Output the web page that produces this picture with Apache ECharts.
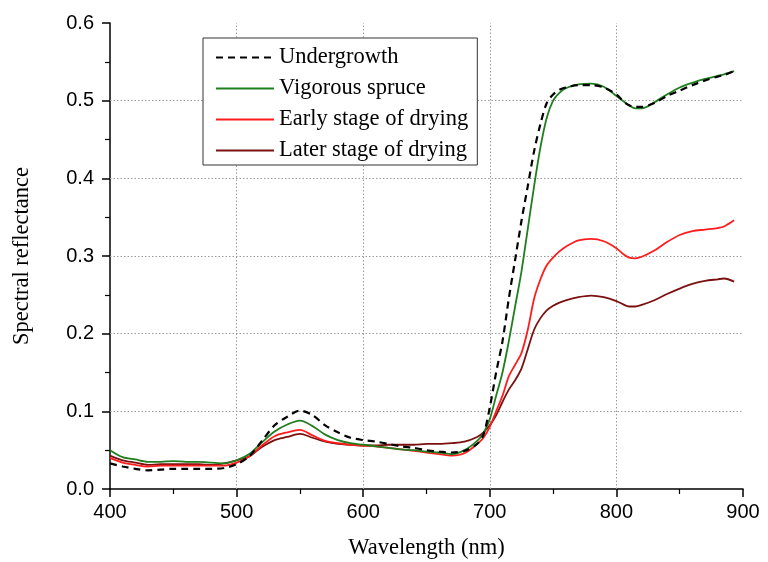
<!DOCTYPE html>
<html>
<head>
<meta charset="utf-8">
<script src="https://cdn.jsdelivr.net/npm/echarts@6/dist/echarts.min.js"></script>
<style>
  html, body { margin: 0; padding: 0; background: #fff; }
  #chart { width: 768px; height: 562px; }
</style>
</head>
<body>
<div id="chart"></div>
<script>
// wavelength (nm)
var wavelength = [400, 410, 420, 430, 440, 450, 460, 470, 480, 490, 500, 510, 520, 530, 540, 550, 560, 570, 580, 590,
  600, 610, 620, 630, 640, 650, 660, 670, 680, 690, 695, 700, 705, 710, 715, 720, 725, 730, 735, 740,
  745, 750, 755, 760, 770, 780, 790, 800, 805, 810, 815, 820, 830, 840, 850, 860, 870, 880, 885, 893];

var undergrowth = [0.033, 0.029, 0.026, 0.024, 0.025, 0.026, 0.026, 0.026, 0.026, 0.027, 0.032, 0.042, 0.062, 0.082, 0.093, 0.101, 0.095, 0.082, 0.073, 0.066,
  0.063, 0.061, 0.058, 0.055, 0.053, 0.050, 0.048, 0.047, 0.049, 0.058, 0.070, 0.105, 0.150, 0.190, 0.245, 0.295, 0.345, 0.390, 0.435, 0.470,
  0.497, 0.508, 0.514, 0.517, 0.520, 0.520, 0.517, 0.508, 0.500, 0.494, 0.492, 0.492, 0.497, 0.506, 0.513, 0.520, 0.526, 0.531, 0.533, 0.538];

var vigorous = [0.050, 0.041, 0.038, 0.035, 0.035, 0.036, 0.035, 0.035, 0.034, 0.033, 0.037, 0.045, 0.060, 0.074, 0.083, 0.088, 0.081, 0.070, 0.063, 0.059,
  0.057, 0.055, 0.053, 0.051, 0.050, 0.048, 0.047, 0.045, 0.050, 0.062, 0.072, 0.090, 0.120, 0.150, 0.190, 0.235, 0.280, 0.335, 0.390, 0.440,
  0.478, 0.500, 0.510, 0.516, 0.521, 0.522, 0.518, 0.506, 0.500, 0.494, 0.490, 0.490, 0.498, 0.508, 0.517, 0.523, 0.528, 0.532, 0.534, 0.538];

var earlyDrying = [0.040, 0.034, 0.031, 0.029, 0.030, 0.030, 0.030, 0.030, 0.030, 0.030, 0.034, 0.042, 0.056, 0.068, 0.073, 0.076, 0.069, 0.062, 0.059, 0.057,
  0.056, 0.055, 0.053, 0.051, 0.049, 0.047, 0.045, 0.043, 0.046, 0.058, 0.066, 0.080, 0.100, 0.120, 0.145, 0.160, 0.175, 0.205, 0.245, 0.270,
  0.288, 0.298, 0.306, 0.312, 0.320, 0.322, 0.319, 0.310, 0.303, 0.298, 0.297, 0.299, 0.307, 0.318, 0.327, 0.332, 0.334, 0.336, 0.338, 0.346];

var laterDrying = [0.043, 0.037, 0.034, 0.031, 0.032, 0.032, 0.032, 0.032, 0.031, 0.033, 0.037, 0.042, 0.054, 0.063, 0.067, 0.071, 0.066, 0.061, 0.058, 0.057,
  0.056, 0.056, 0.057, 0.057, 0.057, 0.058, 0.058, 0.059, 0.061, 0.067, 0.073, 0.082, 0.095, 0.112, 0.128, 0.140, 0.155, 0.180, 0.205, 0.220,
  0.230, 0.236, 0.240, 0.243, 0.247, 0.249, 0.247, 0.242, 0.238, 0.235, 0.235, 0.237, 0.243, 0.251, 0.258, 0.264, 0.268, 0.270, 0.271, 0.267];

var seriesNames = ['Undergrowth', 'Vigorous spruce', 'Early stage of drying', 'Later stage of drying'];
var seriesColors = ['#000000', '#1f7f1f', '#ff1c1c', '#7a1010'];
var xGrid = [500, 600, 700, 800];
var yGrid = [0.1, 0.2, 0.3, 0.4, 0.5];

function pairs(vals) {
  return wavelength.map(function (w, i) { return [w, vals[i]]; });
}

var chart = echarts.init(document.getElementById('chart'), null, { renderer: 'canvas' });

var gridLines = xGrid.map(function (v) { return { xAxis: v }; })
  .concat(yGrid.map(function (v) { return { yAxis: v }; }));

function lineSeries(idx, vals, dashed) {
  return {
    name: seriesNames[idx],
    type: 'line',
    data: pairs(vals),
    showSymbol: false,
    symbol: 'none',
    smooth: 0.3,
    z: 10 - idx,
    lineStyle: { color: seriesColors[idx], width: dashed ? 2.2 : 1.8, type: dashed ? [7, 5] : 'solid' },
    itemStyle: { color: seriesColors[idx] }
  };
}

var series = [
  lineSeries(0, undergrowth, true),
  lineSeries(1, vigorous, false),
  lineSeries(2, earlyDrying, false),
  lineSeries(3, laterDrying, false)
];
// dotted grid at the inner major ticks only
series[3].markLine = {
  silent: true,
  symbol: 'none',
  label: { show: false },
  lineStyle: { color: '#9a9a9a', type: [1.5, 2], width: 1 },
  emphasis: { disabled: true },
  data: gridLines,
  z: 1
};

chart.setOption({
  animation: false,
  backgroundColor: '#fff',
  grid: { left: 110, right: 25, top: 23, bottom: 73, outerBoundsMode: 'none' },
  legend: {
    orient: 'vertical',
    left: 203,
    top: 38,
    padding: [8, 9, 3, 12],
    borderColor: '#333',
    borderWidth: 1,
    backgroundColor: '#fff',
    itemWidth: 58,
    itemHeight: 3,
    itemGap: 8,
    itemStyle: { opacity: 0 },
    data: seriesNames,
    textStyle: { fontFamily: 'Liberation Serif', fontSize: 22.5, lineHeight: 23, color: '#000' }
  },
  xAxis: {
    type: 'value',
    min: 400,
    max: 900,
    interval: 100,
    name: 'Wavelength (nm)',
    nameLocation: 'middle',
    nameGap: 48,
    nameTextStyle: { fontFamily: 'Liberation Serif', fontSize: 22.5, color: '#000' },
    axisLine: { show: true, onZero: false, lineStyle: { color: '#000', width: 1.5 } },
    axisTick: { show: true, inside: false, length: 8, lineStyle: { color: '#000', width: 1.5 } },
    minorTick: { show: true, splitNumber: 2, length: 5, lineStyle: { color: '#000', width: 1.2 } },
    axisLabel: { fontFamily: 'Liberation Sans', fontSize: 20, color: '#000', margin: 13 },
    splitLine: { show: false }
  },
  yAxis: {
    type: 'value',
    min: 0,
    max: 0.6,
    interval: 0.1,
    name: 'Spectral reflectance',
    nameLocation: 'middle',
    nameGap: 76,
    nameTextStyle: { fontFamily: 'Liberation Serif', fontSize: 22.5, color: '#000' },
    axisLine: { show: true, onZero: false, lineStyle: { color: '#000', width: 1.5 } },
    axisTick: { show: true, inside: false, length: 8, lineStyle: { color: '#000', width: 1.5 } },
    minorTick: { show: true, splitNumber: 2, length: 5, lineStyle: { color: '#000', width: 1.2 } },
    axisLabel: {
      fontFamily: 'Liberation Sans', fontSize: 20, color: '#000', margin: 16,
      formatter: function (v) { return v.toFixed(1); }
    },
    splitLine: { show: false }
  },
  series: series
});
</script>
</body>
</html>
